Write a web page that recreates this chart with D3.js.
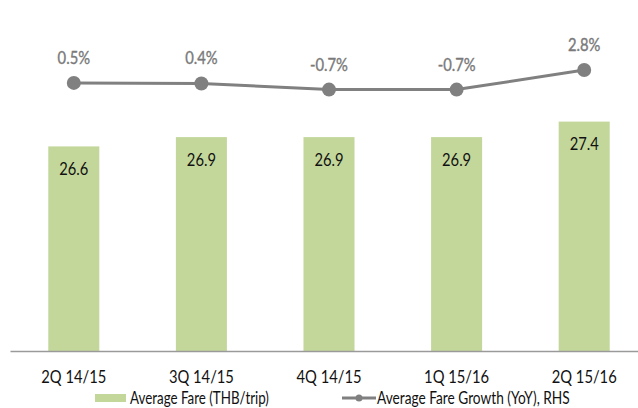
<!DOCTYPE html>
<html>
<head>
<meta charset="utf-8">
<script src="https://cdn.jsdelivr.net/npm/d3@7"></script>
<style>
  html, body { margin: 0; padding: 0; background: #fff; }
  text { font-family: Lato, "Liberation Sans", sans-serif; }
</style>
</head>
<body>
<div id="chart"></div>
<script>
// chart data
var quarters = ["2Q 14/15", "3Q 14/15", "4Q 14/15", "1Q 15/16", "2Q 15/16"];
var avgFare = [26.6, 26.9, 26.9, 26.9, 27.4];
var fareGrowth = [0.5, 0.4, -0.7, -0.7, 2.8];
var fareLabels = ["26.6", "26.9", "26.9", "26.9", "27.4"];
var growthLabels = ["0.5%", "0.4%", "-0.7%", "-0.7%", "2.8%"];
var legendNames = ["Average Fare (THB/trip)", "Average Fare Growth (YoY), RHS"];

// size of the page
var W = 638, H = 408;
var plotTop = 41, plotBottom = 351, plotLeft = 10, plotRight = 648;
var squeeze = 0.82; // text in the original is narrow

var svg = d3.select("#chart").append("svg")
    .attr("width", W)
    .attr("height", H);

function place(px, py, s) {
  return "translate(" + px + "," + py + ") scale(" + (s || squeeze) + ",1)";
}

// scales
var x = d3.scaleBand()
    .domain(quarters)
    .range([plotLeft, plotRight])
    .paddingInner(0.6)
    .paddingOuter(0.3);
var y = d3.scaleLinear()
    .domain([20, 30])
    .range([plotBottom, plotTop]);
var y2 = d3.scaleLinear()
    .domain([-47.5, 8])
    .range([plotBottom, plotTop]);

var cx = function(d, i) { return x(quarters[i]) + x.bandwidth() / 2; };

// bars
svg.selectAll(".bar")
    .data(avgFare)
    .enter().append("rect")
    .attr("class", "bar")
    .attr("x", function(d, i) { return x(quarters[i]); })
    .attr("width", x.bandwidth())
    .attr("y", function(d) { return y(d); })
    .attr("height", function(d) { return plotBottom - y(d); })
    .style("fill", "#c4d79b");

// bar labels
svg.selectAll(".barlabel")
    .data(avgFare)
    .enter().append("text")
    .attr("transform", function(d, i) { return place(cx(d, i), y(d) + 28.5); })
    .attr("text-anchor", "middle")
    .style("font-size", "18px")
    .style("fill", "#111")
    .text(function(d, i) { return fareLabels[i]; });

// x axis
var xAxis = svg.append("g")
    .attr("transform", "translate(0," + plotBottom + ")")
    .call(d3.axisBottom(x).tickSize(0).tickPadding(19));
xAxis.select(".domain").attr("stroke", "#9a9a9a").attr("stroke-width", 1.3);
xAxis.selectAll("text")
    .attr("transform", "scale(" + squeeze + ",1)")
    .style("font-size", "18px")
    .style("fill", "#111")
    .style("font-family", "Lato, 'Liberation Sans', sans-serif");

// growth line
var line = d3.line()
    .x(cx)
    .y(function(d) { return y2(d); });

svg.append("path")
    .datum(fareGrowth)
    .attr("d", line)
    .style("fill", "none")
    .style("stroke", "#808080")
    .style("stroke-width", 3);

svg.selectAll(".dot")
    .data(fareGrowth)
    .enter().append("circle")
    .attr("cx", cx)
    .attr("cy", function(d) { return y2(d); })
    .attr("r", 7)
    .style("fill", "#808080");

svg.selectAll(".linelabel")
    .data(fareGrowth)
    .enter().append("text")
    .attr("transform", function(d, i) { return place(cx(d, i), y2(d) - 19); })
    .attr("text-anchor", "middle")
    .style("font-size", "18px")
    .style("fill", "#7a7a7a")
    .style("stroke", "#7a7a7a")
    .style("stroke-width", 0.4)
    .text(function(d, i) { return growthLabels[i]; });

// legend
var legend = svg.append("g");
legend.append("rect")
    .attr("x", 95).attr("y", 394)
    .attr("width", 31).attr("height", 8)
    .style("fill", "#c4d79b");
legend.append("text")
    .attr("transform", place(130, 403.5, 0.81))
    .style("font-size", "16.5px")
    .style("fill", "#111")
    .text(legendNames[0]);
legend.append("line")
    .attr("x1", 342).attr("x2", 376)
    .attr("y1", 398).attr("y2", 398)
    .style("stroke", "#808080")
    .style("stroke-width", 3);
legend.append("circle")
    .attr("cx", 359).attr("cy", 398).attr("r", 3.5)
    .style("fill", "#808080");
legend.append("text")
    .attr("transform", place(377, 403.5, 0.83))
    .style("font-size", "16.5px")
    .style("fill", "#111")
    .text(legendNames[1]);
</script>
</body>
</html>
